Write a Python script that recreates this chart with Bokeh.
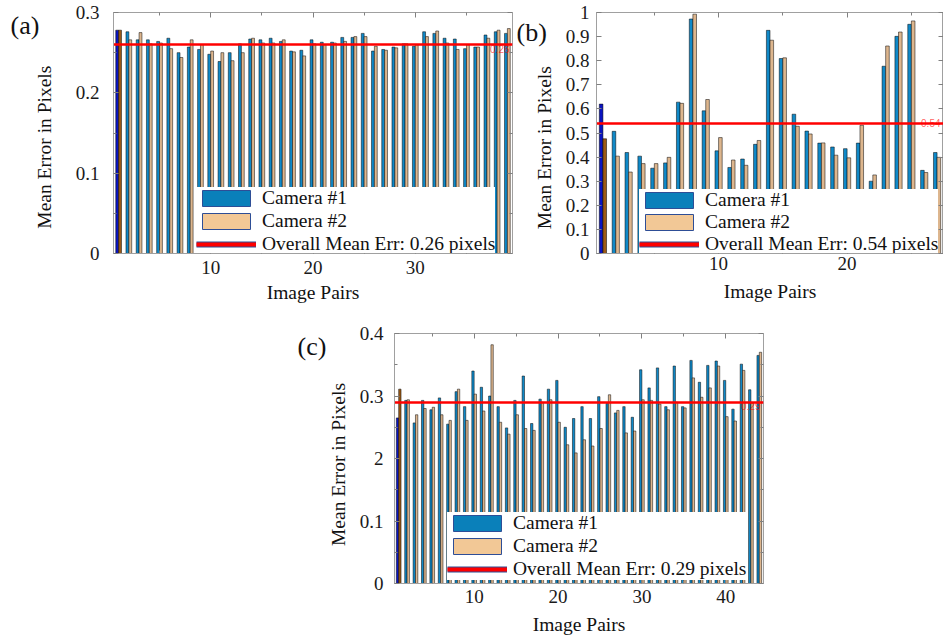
from bokeh.plotting import figure
from bokeh.models import (Range1d, FixedTicker, LinearAxis, Legend, LegendItem,
                          Label, ColumnDataSource, Spacer)
from bokeh.layouts import column, row
from bokeh.transform import dodge
from bokeh.embed import file_html
from bokeh.resources import INLINE

# ---------------- data ----------------
cam1_a = [0.278, 0.276, 0.266, 0.266, 0.264, 0.268, 0.250, 0.257, 0.254, 0.248,
          0.239, 0.250, 0.261, 0.267, 0.266, 0.268, 0.264, 0.252, 0.253, 0.266,
          0.263, 0.263, 0.269, 0.269, 0.274, 0.252, 0.254, 0.257, 0.261, 0.258,
          0.276, 0.274, 0.268, 0.267, 0.255, 0.257, 0.272, 0.276, 0.274]
cam2_a = [0.278, 0.266, 0.275, 0.261, 0.262, 0.255, 0.244, 0.266, 0.260, 0.252,
          0.250, 0.240, 0.250, 0.268, 0.262, 0.262, 0.266, 0.251, 0.246, 0.261,
          0.260, 0.262, 0.264, 0.270, 0.270, 0.258, 0.253, 0.256, 0.261, 0.260,
          0.270, 0.277, 0.262, 0.254, 0.260, 0.257, 0.268, 0.278, 0.280]
mean_a = 0.26

cam1_b = [0.620, 0.507, 0.419, 0.404, 0.354, 0.376, 0.628, 0.973, 0.592, 0.426,
          0.357, 0.392, 0.453, 0.926, 0.809, 0.578, 0.508, 0.458, 0.442, 0.435,
          0.458, 0.300, 0.777, 0.901, 0.951, 0.345, 0.419]
cam2_b = [0.476, 0.404, 0.338, 0.373, 0.373, 0.399, 0.623, 0.993, 0.639, 0.481,
          0.388, 0.366, 0.469, 0.885, 0.812, 0.528, 0.496, 0.459, 0.408, 0.397,
          0.532, 0.326, 0.861, 0.919, 0.965, 0.336, 0.399]
mean_b = 0.54

cam1_c = [0.265, 0.293, 0.257, 0.293, 0.278, 0.297, 0.255, 0.307, 0.283, 0.340,
          0.314, 0.300, 0.283, 0.249, 0.293, 0.332, 0.256, 0.295, 0.311, 0.325,
          0.250, 0.264, 0.283, 0.264, 0.299, 0.288, 0.273, 0.283, 0.266, 0.342,
          0.313, 0.345, 0.283, 0.348, 0.283, 0.357, 0.322, 0.349, 0.356, 0.325,
          0.279, 0.351, 0.310, 0.365]
cam2_c = [0.311, 0.294, 0.270, 0.280, 0.282, 0.270, 0.261, 0.311, 0.261, 0.303,
          0.276, 0.382, 0.258, 0.239, 0.270, 0.248, 0.245, 0.290, 0.294, 0.258,
          0.222, 0.209, 0.230, 0.220, 0.248, 0.302, 0.277, 0.241, 0.244, 0.294,
          0.293, 0.287, 0.278, 0.290, 0.281, 0.329, 0.298, 0.313, 0.348, 0.267,
          0.260, 0.341, 0.289, 0.370]
mean_c = 0.29

xticks_a = [10, 20, 30]
xticks_b = [10, 20]
xticks_c = [10, 20, 30, 40]
yticks_a = [0, 0.1, 0.2, 0.3]
ylabels_a = ["0", "0.1", "0.2", "0.3"]
yticks_b = [0, 0.1, 0.2, 0.3, 0.4, 0.5, 0.6, 0.7, 0.8, 0.9, 1]
ylabels_b = ["0", "0.1", "0.2", "0.3", "0.4", "0.5", "0.6", "0.7", "0.8", "0.9", "1"]
yticks_c = [0, 0.1, 0.2, 0.3, 0.4]
ylabels_c = ["0", "0.1", "2", "0.3", "0.4"]

legend_labels = ["Camera #1", "Camera #2"]
x_title = "Image Pairs"
y_title = "Mean Error in Pixels"

# ---------------- styling ----------------
SERIF = "Liberation Serif"
BLUE = "#1089C8"
TAN = "#DDB68E"
HL_BLUE = "#0A14C0"
HL_BROWN = "#9C5A16"
GRAY = "#A0A0A0"


def panel(tag, cam1, cam2, mean, ymax, xticks, yticks, ylabels, yminor,
          width, height, bl, br, bt, bb, leg_loc, leg_spacing, tag_off, ytitle_off,
          y_standoff, xlab_standoff, xtl_standoff, val_baseline):
    n = len(cam1)
    pairs = list(range(1, n + 1))
    src = ColumnDataSource(dict(
        pair=pairs, c1=cam1, c2=cam2,
        col1=[HL_BLUE] + [BLUE] * (n - 1),
        col2=[HL_BROWN] + [TAN] * (n - 1),
    ))
    x0, x1 = 0.5, n + 0.5
    p = figure(width=width, height=height,
               x_range=Range1d(x0, x1), y_range=Range1d(0, ymax),
               output_backend="svg", toolbar_location=None,
               min_border_left=bl, min_border_right=br,
               min_border_top=bt, min_border_bottom=bb)
    p.background_fill_color = "white"
    p.border_fill_color = "white"
    p.outline_line_color = GRAY
    p.xgrid.visible = False
    p.ygrid.visible = False

    p.vbar(x=dodge("pair", -0.14, range=p.x_range), top="c1", width=0.28,
           source=src, fill_color="col1", line_color="black", line_width=0.5)
    p.vbar(x=dodge("pair", 0.14, range=p.x_range), top="c2", width=0.28,
           source=src, fill_color="col2", line_color="black", line_width=0.5)
    p.hspan(y=[mean], line_color="red", line_width=2.5)

    # legend swatch renderers (hidden; only used for the legend glyphs)
    s1 = p.vbar(x="pair", top="c1", width=0.28, source=src, fill_color="#0A80BA",
                line_color="#2E4E96", line_width=1, visible=False)
    s2 = p.vbar(x="pair", top="c2", width=0.28, source=src, fill_color="#F2C896",
                line_color="#2E4E96", line_width=1, visible=False)
    s3a = p.line(x="pair", y="c1", source=src, line_color="#2E4E96", line_width=6, visible=False)
    s3b = p.line(x="pair", y="c1", source=src, line_color="red", line_width=4, visible=False)
    legend = Legend(items=[
        LegendItem(label=legend_labels[0], renderers=[s1]),
        LegendItem(label=legend_labels[1], renderers=[s2]),
        LegendItem(label=f"Overall Mean Err: {mean:.2f} pixels", renderers=[s3a, s3b]),
    ], location=leg_loc, orientation="vertical", glyph_width=60, glyph_height=20,
        label_height=20, label_standoff=6, spacing=leg_spacing, padding=3, margin=0,
        background_fill_color="white", background_fill_alpha=1.0,
        border_line_color=None, label_text_font=SERIF,
        label_text_font_size="19.5px", label_text_color="#111111",
        inactive_fill_alpha=0.0)
    p.add_layout(legend)

    # mean value label near right edge
    p.add_layout(Label(x=x1, y=mean, text=f"{mean:.2f}", text_color="red",
                       text_alpha=0.65, text_font_size="10px", text_align="right",
                       text_baseline=val_baseline, x_offset=-3))

    # texts left of the frame: offsets in px (from frame left / frame top) converted
    # to data units; added to the left side panel so they are not clipped to the frame
    fw = width - bl - br
    fh = height - bt - bb

    def to_data(off):
        return x0 + off[0] * (x1 - x0) / fw, ymax - off[1] * ymax / fh

    tx, ty = to_data(tag_off)
    p.add_layout(Label(x=tx, y=ty, text=tag, text_font=SERIF, text_font_size="26px",
                       text_align="left", text_baseline="middle", text_color="#111111"),
                 "left")
    yx, yy = to_data(ytitle_off)
    p.add_layout(Label(x=yx, y=yy, text=y_title, text_font=SERIF, text_font_size="19.5px",
                       angle=90, angle_units="deg", text_align="center",
                       text_baseline="middle", text_color="#111111"),
                 "left")

    xt = FixedTicker(ticks=xticks, minor_ticks=[t - 5 for t in xticks] + [xticks[-1] + 5])
    yt = FixedTicker(ticks=yticks, minor_ticks=yminor)
    for ax, tk in ((p.xaxis[0], xt), (p.yaxis[0], yt)):
        ax.ticker = tk
        ax.major_label_text_font = SERIF
        ax.major_label_text_font_size = "19px"
        ax.major_label_text_color = "#1a1a1a"
        ax.axis_label_text_font = SERIF
        ax.axis_label_text_font_size = "19.5px"
        ax.axis_label_text_font_style = "normal"
        ax.axis_label_text_color = "#111111"
        ax.axis_line_color = GRAY
        ax.major_tick_line_color = "#808080"
        ax.minor_tick_line_color = "#808080"
        ax.major_tick_in = 5
        ax.major_tick_out = 0
        ax.minor_tick_in = 3
        ax.minor_tick_out = 0
    p.xaxis[0].axis_label = x_title
    p.yaxis[0].major_label_overrides = {t: s for t, s in zip(yticks, ylabels)}
    p.yaxis[0].major_label_standoff = y_standoff
    p.xaxis[0].axis_label_standoff = xlab_standoff
    p.xaxis[0].major_label_standoff = xtl_standoff

    # mirrored ticks on top and right (box on)
    for loc, tk in (("above", xt), ("right", yt)):
        a = LinearAxis(ticker=tk, major_label_text_font_size="0px", major_label_standoff=0,
                       major_label_text_color=None,
                       axis_line_color=None, major_tick_line_color="#808080",
                       minor_tick_line_color="#808080", major_tick_in=5, major_tick_out=0,
                       minor_tick_in=3, minor_tick_out=0)
        p.add_layout(a, loc)
    return p


pa = panel("(a)", cam1_a, cam2_a, mean_a, 0.3, xticks_a, yticks_a, ylabels_a,
           [0.05, 0.15, 0.25], width=513, height=305, bl=113, br=1, bt=12, bb=46,
           leg_loc=(83, -2), leg_spacing=1, tag_off=(-103, 13), ytitle_off=(-69, 138),
           y_standoff=14, xlab_standoff=5, xtl_standoff=7, val_baseline="top")
pb = panel("(b)", cam1_b, cam2_b, mean_b, 1.0, xticks_b, yticks_b, ylabels_b,
           [], width=447, height=305, bl=100, br=0, bt=11, bb=48,
           leg_loc=(43, -2), leg_spacing=0, tag_off=(-80, 20), ytitle_off=(-52, 138),
           y_standoff=7, xlab_standoff=8, xtl_standoff=3, val_baseline="middle")
# let (b)'s left border (transparent) overlap the right end of (a)'s canvas
pb.margin = (0, 0, 0, -17)
pb.border_fill_alpha = 0.0
pc = panel("(c)", cam1_c, cam2_c, mean_c, 0.4, xticks_c, yticks_c, ylabels_c,
           [0.05, 0.15, 0.25, 0.35], width=653, height=335, bl=104, br=180, bt=28, bb=57,
           leg_loc=(53, 3), leg_spacing=1, tag_off=(-97, 13), ytitle_off=(-56, 131),
           y_standoff=11, xlab_standoff=8, xtl_standoff=6, val_baseline="top")

layout = column(row(pa, pb), row(Spacer(width=290, height=335), pc))
open("out.html", "w").write(file_html(layout, INLINE))
